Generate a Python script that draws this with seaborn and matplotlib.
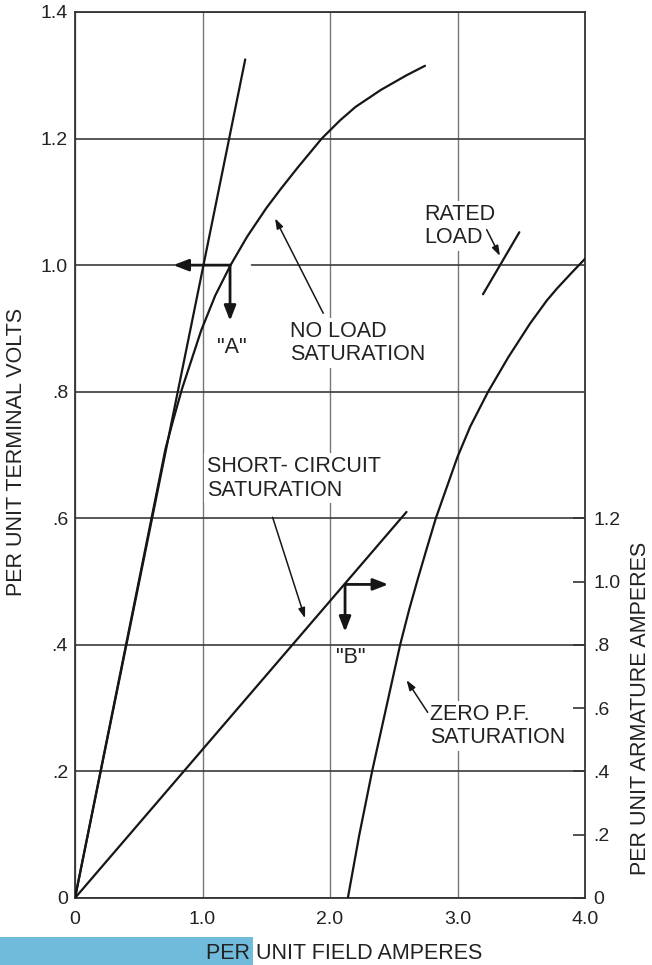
import numpy as np
import pandas as pd
import matplotlib
matplotlib.use("Agg")
import matplotlib.pyplot as plt
from matplotlib.patches import Rectangle
import seaborn as sns

# curve data (field amps, terminal volts)
air_gap_x = [0.0, 1.335]
air_gap_y = [0.0, 1.325]

no_load_x = [0.0, 0.35, 0.71, 0.77, 0.84, 0.99, 1.10, 1.22, 1.35, 1.50, 1.62, 1.75,
             1.935, 2.08, 2.20, 2.40, 2.60, 2.745]
no_load_y = [0.0, 0.35, 0.71, 0.755, 0.805, 0.897, 0.952, 1.0, 1.045, 1.09, 1.122, 1.155,
             1.20, 1.229, 1.25, 1.277, 1.30, 1.315]

short_circuit_x = [0.0, 2.60]
short_circuit_y = [0.0, 0.61]

zero_pf_x = [2.14, 2.23, 2.33, 2.44, 2.55, 2.62, 2.69, 2.76, 2.83, 2.90, 3.00,
             3.10, 3.24, 3.40, 3.57, 3.70, 3.78, 3.90, 4.00]
zero_pf_y = [0.0, 0.10, 0.20, 0.30, 0.40, 0.455, 0.505, 0.553, 0.60, 0.64, 0.697,
             0.745, 0.80, 0.855, 0.908, 0.944, 0.963, 0.989, 1.01]

rated_load_x = [3.20, 3.485]
rated_load_y = [0.954, 1.052]

x_ticks = [0, 1, 2, 3, 4]
x_labels = ["0", "1.0", "2.0", "3.0", "4.0"]
y_ticks = [0, 0.2, 0.4, 0.6, 0.8, 1.0, 1.2, 1.4]
y_labels = ["0", ".2", ".4", ".6", ".8", "1.0", "1.2", "1.4"]
amp_ticks = [0, 0.2, 0.4, 0.6, 0.8, 1.0, 1.2]
amp_labels = ["0", ".2", ".4", ".6", ".8", "1.0", "1.2"]

sns.set_style("white")
plt.rcParams['font.family'] = ['Liberation Sans', 'DejaVu Sans']

fig = plt.figure(figsize=(6.52, 9.65), dpi=100)
ax = fig.add_axes([75 / 652, 67 / 965, 510 / 652, 886 / 965])

ink = "#161616"
txt = "#222222"
fs = 15.5

curves = [
    (air_gap_x, air_gap_y),
    (no_load_x, no_load_y),
    (short_circuit_x, short_circuit_y),
    (zero_pf_x, zero_pf_y),
    (rated_load_x, rated_load_y),
]
for cx, cy in curves:
    df = pd.DataFrame({"x": cx, "y": cy})
    sns.lineplot(data=df, x="x", y="y", ax=ax, sort=False, estimator=None,
                 color=ink, lw=1.6, zorder=4)

ax.set_xlim(0, 4)
ax.set_ylim(0, 1.4)
ax.set_xticks(x_ticks)
ax.set_xticklabels(x_labels)
ax.set_yticks(y_ticks)
ax.set_yticklabels(y_labels)
ax.tick_params(axis="both", length=0, labelsize=14, colors=txt)
ax.tick_params(axis="y", pad=5)
ax.tick_params(axis="x", pad=9)

# grid: horizontal dark, vertical lighter
ax.set_axisbelow(True)
ax.yaxis.grid(True, color="#3a3a3a", lw=1.2)
ax.xaxis.grid(True, color="#777777", lw=1.0)
for s in ax.spines.values():
    s.set_color("#333333")
    s.set_linewidth(1.3)

# gap in the 1.0 gridline
ax.plot([1.235, 1.365], [1.0, 1.0], color="white", lw=2.5, zorder=1)

ax.set_xlabel("PER UNIT FIELD AMPERES", fontsize=fs, color=txt)
ax.xaxis.set_label_coords(0.527, -0.051)
ax.set_ylabel("PER UNIT TERMINAL VOLTS", fontsize=fs, color=txt)
ax.yaxis.set_label_coords(-0.094, 0.503)

# right axis (armature amperes, twice the volts scale)
ax2 = ax.twinx()
ax2.set_ylim(0, 2.8)
ax2.set_yticks(amp_ticks)
ax2.set_yticklabels(amp_labels)
ax2.tick_params(axis="y", direction="in", length=9, width=1.2, color="#333333",
                labelsize=14, labelcolor=txt, pad=6)
ax2.grid(False)
for s in ax2.spines.values():
    s.set_visible(False)
ax2.set_ylabel("PER UNIT ARMATURE AMPERES", fontsize=fs, color=txt)
ax2.yaxis.set_label_coords(1.089, 0.214)

# operating point arrows "A" and "B"
akw = dict(arrowstyle="-|>,head_length=0.9,head_width=0.35", color=ink, lw=2.0,
           shrinkA=0, shrinkB=0)
ax.annotate("", xy=(0.771, 1.0), xytext=(1.216, 1.0), arrowprops=akw, zorder=5)
ax.annotate("", xy=(1.216, 0.912), xytext=(1.216, 1.0), arrowprops=akw, zorder=5)
ax.annotate("", xy=(2.457, 0.4955), xytext=(2.118, 0.4955), arrowprops=akw, zorder=5)
ax.annotate("", xy=(2.118, 0.4206), xytext=(2.118, 0.4955), arrowprops=akw, zorder=5)

# labels with pointer arrows
pkw = dict(arrowstyle="-|>,head_length=0.6,head_width=0.2", color=ink, lw=1.1,
           shrinkA=0, shrinkB=0)
ax.annotate("", xy=(1.569, 1.074), xytext=(1.947, 0.924), arrowprops=pkw, zorder=5)
ax.annotate("", xy=(3.333, 1.0145), xytext=(3.229, 1.056), arrowprops=pkw, zorder=5)
ax.annotate("", xy=(1.804, 0.442), xytext=(1.55, 0.6015), arrowprops=pkw, zorder=5)
ax.annotate("", xy=(2.60, 0.3444), xytext=(2.766, 0.2934), arrowprops=pkw, zorder=5)

box = dict(facecolor="white", edgecolor="none", pad=2)
tkw = dict(fontsize=fs, color=txt, va="top", ha="left", linespacing=1.15,
           bbox=box, zorder=3)
ax.text(2.737, 1.097, "RATED\nLOAD", **tkw)
ax.text(1.686, 0.912, "NO LOAD\nSATURATION", **tkw)
ax.text(1.033, 0.698, "SHORT- CIRCUIT\nSATURATION", **tkw)
ax.text(2.784, 0.307, "ZERO P.F.\nSATURATION", **tkw)
ax.text(1.23, 0.886, '"A"', fontsize=fs, color=txt, va="top", ha="center", zorder=3)
ax.text(2.16, 0.396, '"B"', fontsize=fs, color=txt, va="top", ha="center", zorder=3)

# blue highlight strip at the bottom left
fig.patches.append(Rectangle((0, 0), 253 / 652, 28 / 965, transform=fig.transFigure,
                             facecolor="#70bbdb", edgecolor="none", zorder=-1))

fig.savefig("out.png", dpi=100)
